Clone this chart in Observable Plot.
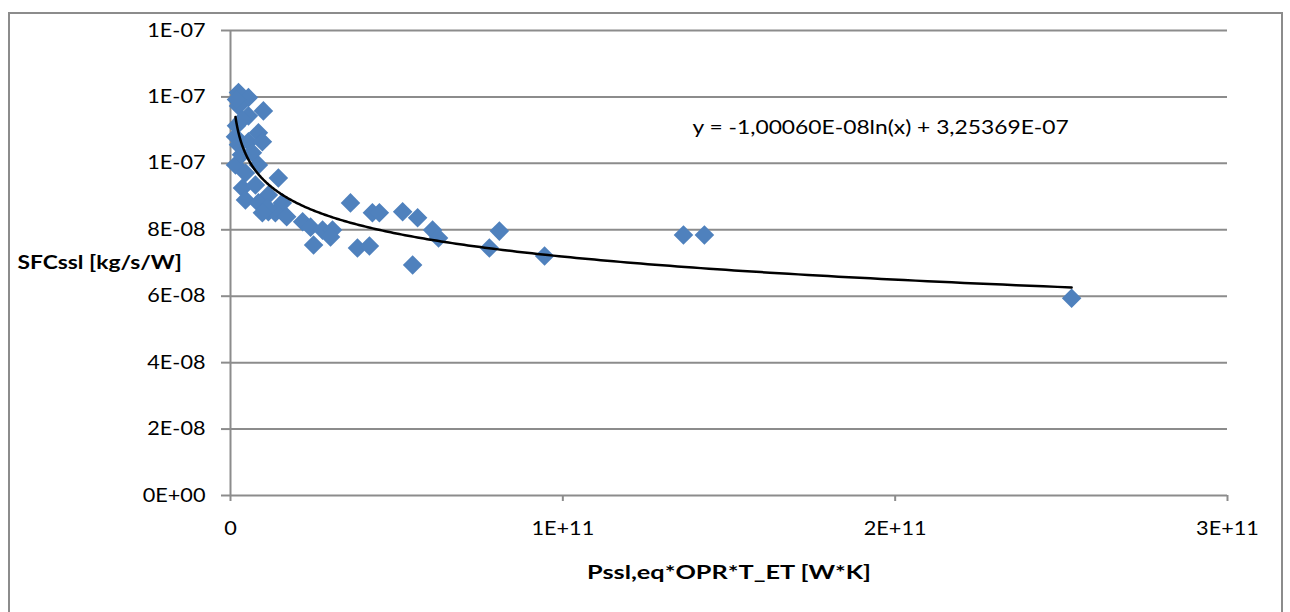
<!DOCTYPE html>
<html>
<head>
<meta charset="utf-8">
<script src="https://cdn.jsdelivr.net/npm/d3@7"></script>
<script src="https://cdn.jsdelivr.net/npm/@observablehq/plot@0.6"></script>
<style>
  html, body { margin: 0; padding: 0; background: #fff; width: 1290px; height: 612px; overflow: hidden; }
  #wrap { position: relative; width: 1290px; height: 612px; }
  #border { position: absolute; left: 8px; top: 12px; width: 1275px; height: 640px; border: 2px solid #8c8c8c; box-sizing: border-box; }
  #chart { position: absolute; left: 0; top: 0; }
</style>
</head>
<body>
<div id="wrap"><div id="border"></div><div id="chart"></div></div>
<script>
// Data
const xValues = [2.4e9, 5.4e9, 9.9e9, 2.4e9, 5.4e9, 1.8e9, 8.4e9, 1.5e9, 5.4e9, 9.6e9,
  2.4e9, 6.6e9, 1.5e9, 8.4e9, 4.5e9, 14.4e9, 3.6e9, 7.5e9, 11.4e9, 4.5e9,
  8.4e9, 15.6e9, 11.4e9, 13.5e9, 16.9e9, 21.7e9, 24.1e9, 27.7e9, 30.7e9, 30.1e9,
  25.0e9, 36.1e9, 38.2e9, 41.8e9, 42.7e9, 44.8e9, 51.8e9, 56.3e9, 54.8e9, 60.8e9,
  62.6e9, 77.9e9, 80.9e9, 94.5e9, 136.3e9, 142.6e9, 253.1e9, 11.1e9, 3.3e9, 1.8e9,
  3.5e9, 9.6e9];
const yValues = [1.213e-7, 1.198e-7, 1.158e-7, 1.173e-7, 1.143e-7, 1.113e-7, 1.092e-7, 1.080e-7, 1.065e-7, 1.065e-7,
  1.056e-7, 1.032e-7, 0.995e-7, 0.995e-7, 0.971e-7, 0.956e-7, 0.926e-7, 0.935e-7, 0.905e-7, 0.890e-7,
  0.881e-7, 0.881e-7, 0.854e-7, 0.851e-7, 0.839e-7, 0.824e-7, 0.808e-7, 0.799e-7, 0.799e-7, 0.778e-7,
  0.754e-7, 0.881e-7, 0.745e-7, 0.751e-7, 0.851e-7, 0.851e-7, 0.854e-7, 0.836e-7, 0.694e-7, 0.799e-7,
  0.775e-7, 0.745e-7, 0.796e-7, 0.721e-7, 0.784e-7, 0.784e-7, 0.594e-7, 0.866e-7, 1.026e-7, 1.192e-7,
  1.131e-7, 0.851e-7];

// Logarithmic trend line coefficients (as printed on the chart)
const trendA = -1.00060e-8;
const trendB = 3.25369e-7;
const trendLabel = "y = -1,00060E-08ln(x) + 3,25369E-07";
const trendLabelPos = {x: 1.39e11, y: 1.107e-7};

const xTicks = [0, 1e11, 2e11, 3e11];
const xTickLabels = ["0", "1E+11", "2E+11", "3E+11"];
const yTicks = [0, 2e-8, 4e-8, 6e-8, 8e-8, 1e-7, 1.2e-7, 1.4e-7];
const yTickLabels = ["0E+00", "2E-08", "4E-08", "6E-08", "8E-08", "1E-07", "1E-07", "1E-07"];
const xTitle = "Pssl,eq*OPR*T_ET [W*K]";
const yTitle = "SFCssl [kg/s/W]";

const points = xValues.map((x, i) => ({x, y: yValues[i]}));
const xmin = d3.min(xValues), xmax = d3.max(xValues);
const trend = d3.range(0, 301).map(i => {
  const x = xmin * Math.pow(xmax / xmin, i / 300);
  return {x, y: trendA * Math.log(x) + trendB};
});

const grey = "#8c8c8c";
const chart = Plot.plot({
  width: 1290,
  height: 612,
  marginLeft: 230,
  marginRight: 63,
  marginTop: 30,
  marginBottom: 117,
  style: {fontFamily: "Lato, sans-serif", fontSize: "19px", color: "#000", background: "transparent"},
  x: {domain: [0, 3e11]},
  y: {domain: [0, 1.4e-7]},
  marks: [
    Plot.gridY(yTicks, {stroke: grey, strokeOpacity: 1, strokeWidth: 2}),
    Plot.ruleX([0], {stroke: grey, strokeWidth: 2}),
    Plot.axisY(yTicks, {tickSize: 9, tickPadding: 16, stroke: grey, strokeWidth: 2, tickFormat: (d, i) => yTickLabels[i], label: null, fill: "#000"}),
    Plot.axisX(xTicks, {tickSize: 6, tickPadding: 20, stroke: grey, strokeWidth: 2, tickFormat: (d, i) => xTickLabels[i], label: null, fill: "#000"}),
    Plot.dot(points, {x: "x", y: "y", symbol: "diamond2", r: 8.8, fill: "#4f81bd", stroke: "none"}),
    Plot.line(trend, {x: "x", y: "y", stroke: "#000", strokeWidth: 2.5}),
    Plot.text([trendLabel], {x: () => trendLabelPos.x, y: () => trendLabelPos.y, text: d => d, textAnchor: "start", fontSize: 19}),
    Plot.text([yTitle], {frameAnchor: "left", dx: -213, text: d => d, textAnchor: "start", fontWeight: "bold", fontSize: 19}),
    Plot.text([xTitle], {frameAnchor: "bottom", dy: 83, text: d => d, fontWeight: "bold", fontSize: 19})
  ]
});
document.getElementById("chart").appendChild(chart);

// Stretch glyphs horizontally to match the wide rendering of the reference text
const stretch = (el, f) => {
  const w = el.getComputedTextLength();
  el.setAttribute("textLength", (w * f).toFixed(1));
  el.setAttribute("lengthAdjust", "spacingAndGlyphs");
};
chart.querySelectorAll("text").forEach(el => {
  const t = el.textContent;
  if (t === xTitle) stretch(el, 1.33);
  else if (t === yTitle) stretch(el, 1.2);
  else if (t === trendLabel) stretch(el, 1.2);
  else stretch(el, 1.14);
});
</script>
</body>
</html>
